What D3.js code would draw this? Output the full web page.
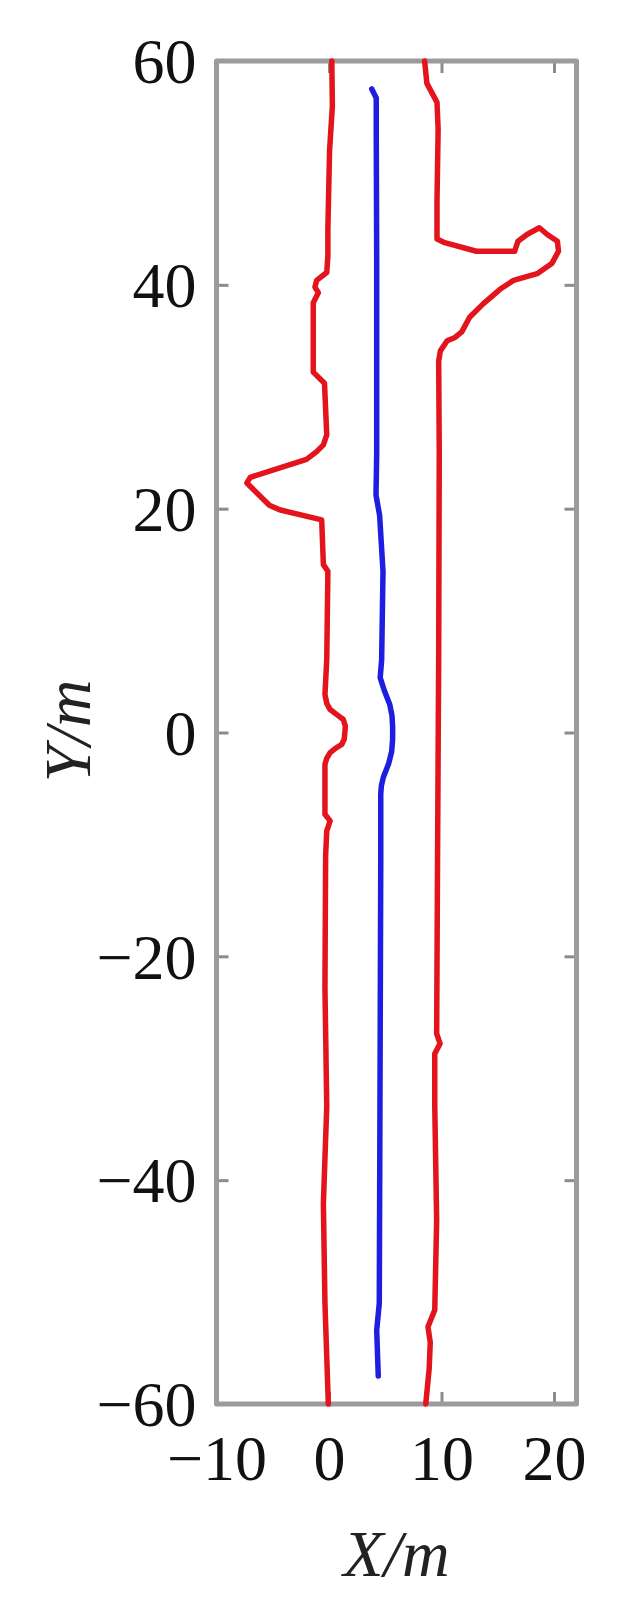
<!DOCTYPE html>
<html>
<head>
<meta charset="utf-8">
<script src="https://cdn.jsdelivr.net/npm/d3@7"></script>
<style>
body{margin:0;background:#fff;}
svg{display:block;}
</style>
</head>
<body>
<svg width="642" height="1600"></svg>
<script>
//////////////////////////////////////////////////////////////// data
var xTicks=[-10,0,10,20], yTicks=[-60,-40,-20,0,20,40,60];
// road boundaries and vehicle track, [X,Y] in metres, top to bottom
var leftEdge=[
	[0.25,60],[0.3,56],[0.05,52],[-0.1,45],[-0.1,42.6],[-0.2,41.1],[-1.1,40.4],[-1.25,39.8],
	[-0.95,39.3],[-1.4,38.4],[-1.4,32.2],[-0.4,31.2],[-0.2,26.6],[-0.5,25.7],[-1.1,25.1],[-2.0,24.4],
	[-7.0,22.8],[-7.3,22.3],[-5.3,20.3],[-4.4,19.9],[-0.65,19.0],[-0.5,15.0],[-0.1,14.4],
	[-0.2,6.5],[-0.36,3.4],[-0.2,2.6],[0.1,2.05],[0.7,1.6],[1.27,1.16],[1.45,0.6],[1.42,0.1],
	[1.35,-0.6],[1.13,-1.07],[0.6,-1.4],[0.1,-1.8],[-0.2,-2.3],[-0.36,-2.85],
	[-0.36,-7.3],[0.1,-7.9],[-0.2,-8.8],[-0.3,-11],[-0.36,-22.8],[-0.2,-33.4],
	[-0.5,-42.1],[-0.36,-51],[-0.06,-60]
];
var rightEdge=[
	[8.5,60],[8.7,58],[9.6,56.3],[9.7,53.9],[9.6,47.5],[9.6,44.1],[10.2,43.8],[13.1,43.0],
	[16.5,43.0],[16.8,43.9],[17.6,44.5],[18.7,45.1],[19.4,44.5],[20.3,43.9],[20.4,43.0],
	[19.8,41.9],[18.5,41.0],[16.4,40.4],[15.2,39.6],[13.7,38.3],[12.5,37.1],[11.8,35.8],
	[11.2,35.3],[10.5,35.0],[9.9,34.1],[9.75,33.2],[9.8,25],[9.75,7],[9.65,-11],[9.57,-26.9],
	[9.87,-27.8],[9.4,-28.7],[9.4,-33.3],[9.57,-43.6],[9.4,-51.6],[8.8,-53.1],[9.0,-54.5],
	[8.9,-56.9],[8.6,-60]
];
var track=[
	[3.8,57.5],[4.2,56.7],[4.2,53.6],[4.24,42],[4.24,25],[4.18,21.2],[4.5,19.4],[4.8,14.4],
	[4.68,6.5],[4.6,5.5],[4.55,4.9],[4.9,3.8],[5.4,2.5],[5.6,1.5],[5.66,0.4],[5.65,-0.7],
	[5.57,-1.7],[5.3,-2.8],[4.83,-4.0],[4.65,-4.8],[4.6,-5.5],[4.6,-11.3],
	[4.53,-33.3],[4.47,-51],[4.24,-53.4],[4.38,-57.5]
];
//////////////////////////////////////////////////////////////// frame
var L=216.5, R=576.5, T=61, B=1404;
var x=d3.scaleLinear().domain([-10,22]).range([L,R]);
var y=d3.scaleLinear().domain([-60,60]).range([B,T]);
var svg=d3.select('svg');
var font='"Liberation Serif","Times New Roman",serif';

function ax(g){
	g.select('.domain').remove();
	g.selectAll('.tick line').attr('stroke','#8c8c8c').attr('stroke-width',3);
	g.selectAll('text').attr('font-family',font).attr('font-size',64).attr('fill','#111');
}
svg.append('g').attr('transform','translate('+L+',0)')
	.call(d3.axisLeft(y).tickValues(yTicks).tickSize(-12).tickPadding(20))
	.call(ax).selectAll('text').attr('dy','0.34em');
svg.append('g').attr('transform','translate('+R+',0)')
	.call(d3.axisRight(y).tickValues(yTicks).tickSize(-12).tickFormat(''))
	.call(ax);
svg.append('g').attr('transform','translate(0,'+B+')')
	.call(d3.axisBottom(x).tickValues(xTicks).tickSize(-12).tickPadding(0))
	.call(ax).selectAll('text').attr('y',76).attr('dy',0);
svg.append('g').attr('transform','translate(0,'+T+')')
	.call(d3.axisTop(x).tickValues(xTicks).tickSize(-12).tickFormat(''))
	.call(ax);

svg.append('rect').attr('x',L).attr('y',T).attr('width',R-L).attr('height',B-T)
	.attr('fill','none').attr('stroke','#9b9b9b').attr('stroke-width',5)
	.attr('stroke-linejoin','round');

//////////////////////////////////////////////////////////////// lines
var line=d3.line().x(function(d){return x(d[0]);}).y(function(d){return y(d[1]);});
[[leftEdge,'#e3141b'],[rightEdge,'#e3141b'],[track,'#1e1ee0']].forEach(function(s){
	svg.append('path').datum(s[0]).attr('d',line)
		.attr('fill','none').attr('stroke',s[1]).attr('stroke-width',5.5)
		.attr('stroke-linejoin','round').attr('stroke-linecap','round');
});

//////////////////////////////////////////////////////////////// titles
svg.append('text').attr('x',(L+R)/2).attr('y',1576).attr('text-anchor','middle')
	.attr('font-family',font).attr('font-size',66).attr('font-style','italic').attr('fill','#222')
	.text('X/m');
svg.append('text').attr('transform','translate(90,731) rotate(-90)').attr('text-anchor','middle')
	.attr('font-family',font).attr('font-size',66).attr('font-style','italic').attr('fill','#222')
	.text('Y/m');
</script>
</body>
</html>
